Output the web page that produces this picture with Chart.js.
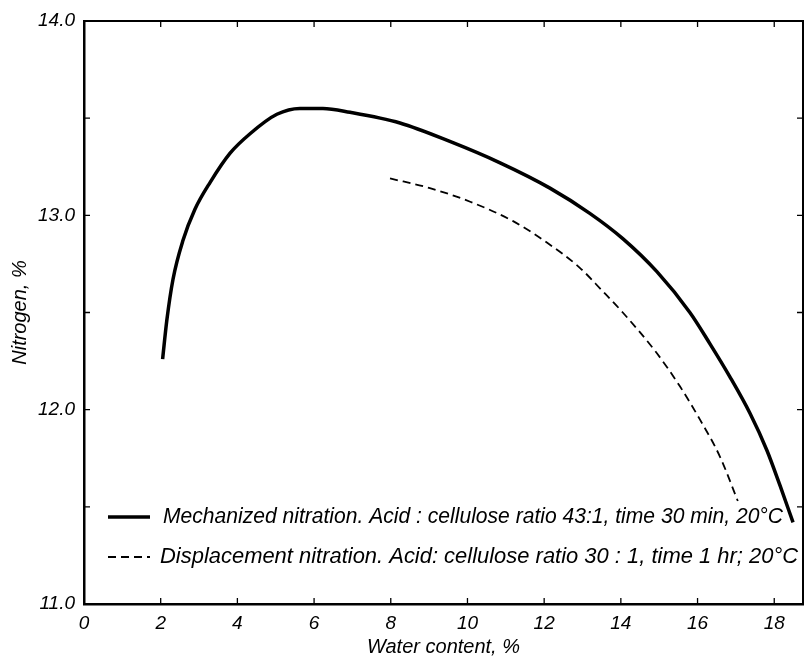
<!DOCTYPE html>
<html>
<head>
<meta charset="utf-8">
<script src="https://cdn.jsdelivr.net/npm/chart.js@4/dist/chart.umd.min.js"></script>
<style>
  body { margin: 0; background: #fff; }
  canvas { display: block; }
</style>
</head>
<body>
<canvas id="c" width="805" height="659"></canvas>
<script>
/* Nitrogen content vs water content — two nitration methods. */
const FONT = "'Liberation Sans', Arial, sans-serif";

// mechanized nitration (solid)
const mechX = [2.05, 2.16, 2.32, 2.58, 2.89, 3.29, 3.81, 4.33, 5.03, 5.63, 6.23, 6.94, 8.24, 9.54, 10.85, 12.15, 13.19, 14.05, 14.94, 15.80, 16.32, 16.84, 17.37, 17.81, 18.15, 18.49];
const mechY = [12.26, 12.46, 12.67, 12.87, 13.03, 13.17, 13.32, 13.42, 13.52, 13.55, 13.55, 13.53, 13.475, 13.38, 13.27, 13.14, 13.01, 12.88, 12.71, 12.50, 12.34, 12.17, 11.98, 11.79, 11.61, 11.42];

// displacement nitration (dashed)
const dispX = [7.98, 9.02, 10.07, 11.19, 12.07, 12.93, 13.5, 14.05, 14.94, 15.54, 16.06, 16.58, 17.05];
const dispY = [13.19, 13.14, 13.07, 12.97, 12.86, 12.73, 12.615, 12.50, 12.29, 12.12, 11.95, 11.76, 11.53];

const legendLabels = [
  "Mechanized nitration. Acid : cellulose ratio 43:1, time 30 min, 20°C",
  "Displacement nitration. Acid: cellulose ratio 30 : 1, time 1 hr; 20°C",
];
const xTicks = [0, 2, 4, 6, 8, 10, 12, 14, 16, 18];
const yTicks = [11.0, 11.5, 12.0, 12.5, 13.0, 13.5, 14.0];

const pts = (xs, ys) => xs.map((x, i) => ({ x, y: ys[i] }));

/* ---------- frame, inward ticks and in-plot legend ---------- */
const decor = {
  id: "decor",
  afterDatasetsDraw(chart) {
    const { ctx, chartArea: a, scales } = chart;
    const sx = scales.x, sy = scales.y;
    ctx.save();
    ctx.strokeStyle = "#000";
    ctx.lineWidth = 2;
    ctx.beginPath();
    ctx.moveTo(a.left, a.top); ctx.lineTo(a.right, a.top); ctx.lineTo(a.right, a.bottom);
    ctx.stroke();

    ctx.lineWidth = 1.3;
    ctx.beginPath();
    xTicks.forEach((v) => {
      const px = sx.getPixelForValue(v);
      ctx.moveTo(px, a.bottom); ctx.lineTo(px, a.bottom - 6);
      if (v > 0) { ctx.moveTo(px, a.top); ctx.lineTo(px, a.top + 6); }
    });
    yTicks.forEach((v) => {
      const py = sy.getPixelForValue(v);
      ctx.moveTo(a.left, py); ctx.lineTo(a.left + 6, py);
      ctx.moveTo(a.right, py); ctx.lineTo(a.right - 6, py);
    });
    ctx.stroke();

    // legend
    const rows = [
      { y: 517, x: 163, ds: chart.data.datasets[0], maxW: 620 },
      { y: 557, x: 160, ds: chart.data.datasets[1], maxW: 638 },
    ];
    rows.forEach((r, i) => {
      ctx.beginPath();
      ctx.lineWidth = r.ds.borderWidth;
      ctx.setLineDash(r.ds.borderDash || []);
      ctx.moveTo(108, r.y); ctx.lineTo(150, r.y);
      ctx.stroke();
      ctx.setLineDash([]);
      ctx.fillStyle = "#000";
      ctx.font = `italic 22px ${FONT}`;
      ctx.textBaseline = "middle";
      ctx.textAlign = "left";
      ctx.fillText(legendLabels[i], r.x, r.y, r.maxW);
    });
    ctx.restore();
  },
};

new Chart(document.getElementById("c"), {
  type: "line",
  data: {
    datasets: [
      { label: legendLabels[0], data: pts(mechX, mechY), borderColor: "#000",
        borderWidth: 3.5, pointRadius: 0, fill: false, cubicInterpolationMode: "monotone" },
      { label: legendLabels[1], data: pts(dispX, dispY), borderColor: "#000",
        borderWidth: 1.8, borderDash: [8, 5], pointRadius: 0, fill: false, cubicInterpolationMode: "monotone" },
    ],
  },
  options: {
    responsive: false,
    animation: false,
    layout: { padding: { top: 21, right: 2, left: 0, bottom: 0 } },
    plugins: { legend: { display: false }, tooltip: { enabled: false } },
    scales: {
      x: {
        type: "linear", min: 0, max: 18.75,
        afterBuildTicks: (s) => { s.ticks = xTicks.map((v) => ({ value: v })); },
        afterFit: (s) => { s.height = 55; },
        grid: { display: false },
        border: { display: true, color: "#000", width: 2.5 },
        ticks: { color: "#000", padding: 0, maxRotation: 0, font: { family: FONT, size: 19, style: "italic" },
          callback: (v) => String(v) },
        title: { display: true, text: "Water content, %", color: "#000", padding: { top: 0, bottom: 0 },
          font: { family: FONT, size: 20, style: "italic" } },
      },
      y: {
        type: "linear", min: 11, max: 14,
        afterBuildTicks: (s) => { s.ticks = yTicks.map((v) => ({ value: v })); },
        afterFit: (s) => { s.width = 84; },
        grid: { display: false },
        border: { display: true, color: "#000", width: 2.5 },
        ticks: { color: "#000", padding: 1, font: { family: FONT, size: 19, style: "italic" },
          callback: (v) => (Number.isInteger(v) ? v.toFixed(1) : "") },
        title: { display: true, text: "Nitrogen, %", color: "#000", padding: { top: 8, bottom: 0 },
          font: { family: FONT, size: 20, style: "italic" } },
      },
    },
  },
  plugins: [decor],
});
</script>
</body>
</html>
